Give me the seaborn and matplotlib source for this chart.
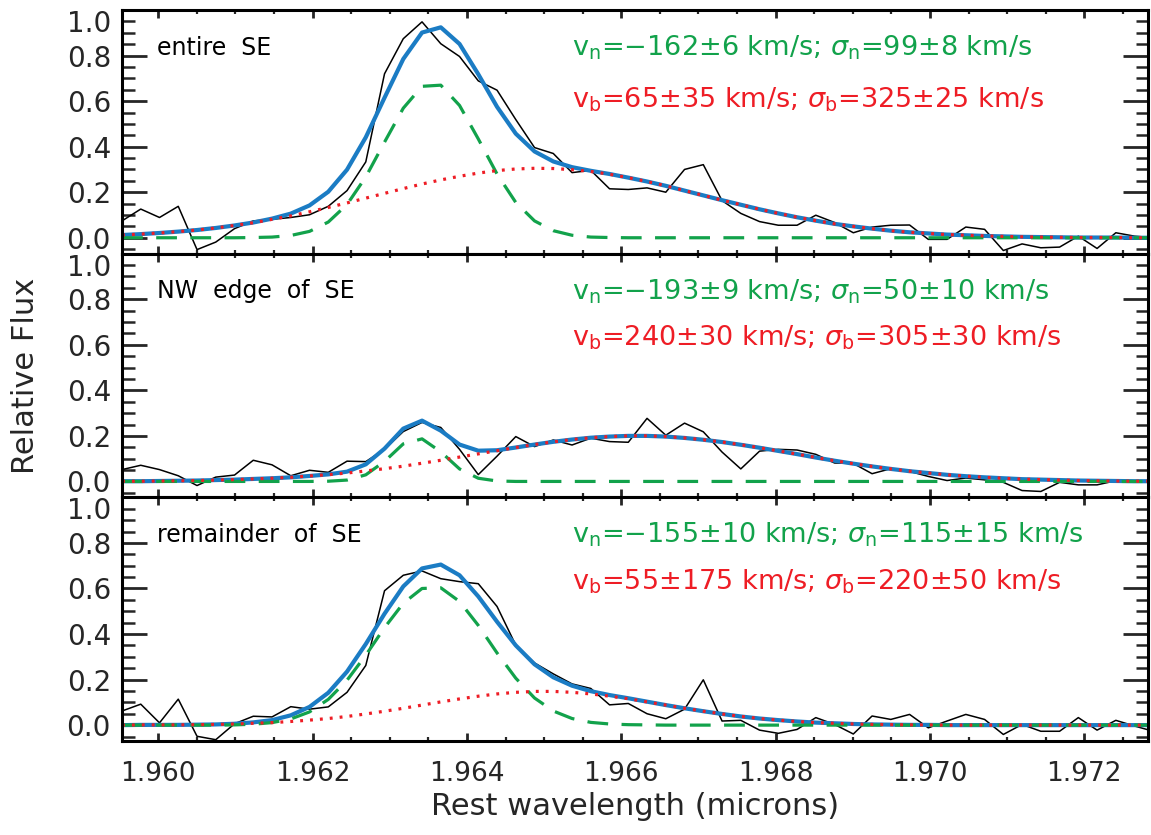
import numpy as np
import pandas as pd
import seaborn as sns
import matplotlib.pyplot as plt
from matplotlib.ticker import MultipleLocator

sns.set_theme(style="ticks")
plt.rcParams['font.family'] = ['DejaVu Sans']
plt.rcParams['mathtext.fontset'] = 'dejavusans'

# rest wavelength grid (microns)
wave = [1.95953, 1.959773, 1.960016, 1.960259, 1.960502, 1.960745, 1.960988, 1.961231,
        1.961474, 1.961717, 1.96196, 1.962203, 1.962446, 1.962689, 1.962932, 1.963175,
        1.963418, 1.963661, 1.963904, 1.964147, 1.96439, 1.964633, 1.964876, 1.965119,
        1.965362, 1.965605, 1.965848, 1.966091, 1.966334, 1.966577, 1.96682, 1.967063,
        1.967306, 1.967549, 1.967792, 1.968035, 1.968278, 1.968521, 1.968764, 1.969007,
        1.96925, 1.969493, 1.969736, 1.969979, 1.970222, 1.970465, 1.970708, 1.970951,
        1.971194, 1.971437, 1.97168, 1.971923, 1.972166, 1.972409, 1.972652, 1.972895]

# entire SE
flux_1 = [0.074, 0.126, 0.089, 0.138, -0.052, -0.019, 0.040, 0.074, 0.081, 0.089, 0.101, 0.138,
          0.207, 0.333, 0.72, 0.874, 0.948, 0.852, 0.796, 0.689, 0.648, 0.519, 0.396, 0.370,
          0.286, 0.296, 0.215, 0.212, 0.219, 0.200, 0.300, 0.321, 0.163, 0.107, 0.071, 0.055,
          0.055, 0.099, 0.067, 0.022, 0.047, 0.055, 0.056, -0.007, -0.007, 0.047, 0.037, -0.056,
          -0.027, -0.044, -0.041, 0.007, -0.047, 0.022, 0.007, 0.0]
narrow_1 = [0, 0, 0, 0, 0, 0, 0, 0.001, 0.003, 0.010, 0.028, 0.069, 0.146, 0.267, 0.420, 0.569,
            0.665, 0.670, 0.581, 0.434, 0.280, 0.155, 0.074, 0.031, 0.011, 0.003, 0.001, 0,
            0, 0, 0, 0, 0, 0, 0, 0, 0, 0, 0, 0, 0, 0, 0, 0, 0, 0, 0, 0, 0, 0, 0, 0, 0, 0, 0, 0]
broad_1 = [0.012, 0.016, 0.021, 0.027, 0.034, 0.043, 0.054, 0.066, 0.081, 0.096, 0.114, 0.133,
           0.153, 0.174, 0.195, 0.216, 0.236, 0.254, 0.270, 0.284, 0.295, 0.302, 0.305, 0.304,
           0.299, 0.291, 0.279, 0.264, 0.247, 0.228, 0.207, 0.186, 0.165, 0.145, 0.125, 0.107,
           0.090, 0.075, 0.061, 0.050, 0.040, 0.031, 0.024, 0.019, 0.014, 0.011, 0.008, 0.006,
           0.004, 0.003, 0.002, 0.001, 0.001, 0.001, 0.0, 0.0]
total_1 = [0.012, 0.016, 0.021, 0.027, 0.034, 0.043, 0.054, 0.067, 0.084, 0.106, 0.142, 0.202,
           0.299, 0.441, 0.615, 0.785, 0.901, 0.924, 0.851, 0.718, 0.575, 0.457, 0.379, 0.335,
           0.310, 0.294, 0.280, 0.264, 0.247, 0.228, 0.207, 0.186, 0.165, 0.145, 0.125, 0.107,
           0.090, 0.075, 0.061, 0.050, 0.040, 0.031, 0.024, 0.019, 0.014, 0.011, 0.008, 0.006,
           0.004, 0.003, 0.002, 0.001, 0.001, 0.001, 0.0, 0.0]

# NW edge of SE
flux_2 = [0.052, 0.071, 0.052, 0.025, -0.018, 0.019, 0.028, 0.093, 0.073, 0.025, 0.049, 0.040,
          0.089, 0.087, 0.141, 0.219, 0.259, 0.237, 0.141, 0.030, 0.111, 0.197, 0.153, 0.182,
          0.160, 0.190, 0.175, 0.172, 0.277, 0.203, 0.256, 0.218, 0.129, 0.055, 0.133, 0.141,
          0.138, 0.119, 0.081, 0.079, 0.034, 0.056, 0.044, 0.022, 0.004, 0.015, 0.007, -0.004,
          -0.040, -0.044, -0.004, -0.015, -0.015, 0.003, 0.0, 0.0]
narrow_2 = [0, 0, 0, 0, 0, 0, 0, 0, 0, 0, 0, 0.001, 0.006, 0.029, 0.088, 0.165, 0.187, 0.130,
            0.055, 0.014, 0.002, 0, 0, 0, 0, 0, 0, 0, 0, 0, 0, 0, 0, 0, 0, 0, 0, 0, 0, 0,
            0, 0, 0, 0, 0, 0, 0, 0, 0, 0, 0, 0, 0, 0, 0, 0]
broad_2 = [0.001, 0.001, 0.002, 0.003, 0.004, 0.006, 0.008, 0.011, 0.014, 0.018, 0.024, 0.030,
           0.037, 0.046, 0.056, 0.067, 0.080, 0.093, 0.107, 0.121, 0.135, 0.149, 0.162, 0.174,
           0.184, 0.192, 0.197, 0.200, 0.200, 0.197, 0.191, 0.183, 0.173, 0.161, 0.148, 0.134,
           0.120, 0.105, 0.091, 0.078, 0.066, 0.055, 0.045, 0.037, 0.029, 0.023, 0.018, 0.014,
           0.010, 0.008, 0.006, 0.004, 0.003, 0.002, 0.001, 0.001]
total_2 = [0.001, 0.001, 0.002, 0.003, 0.004, 0.006, 0.008, 0.011, 0.014, 0.018, 0.024, 0.031,
           0.043, 0.075, 0.144, 0.232, 0.267, 0.223, 0.162, 0.135, 0.137, 0.149, 0.162, 0.174,
           0.184, 0.192, 0.197, 0.200, 0.200, 0.197, 0.191, 0.183, 0.173, 0.161, 0.148, 0.134,
           0.120, 0.105, 0.091, 0.078, 0.066, 0.055, 0.045, 0.037, 0.029, 0.023, 0.018, 0.014,
           0.010, 0.008, 0.006, 0.004, 0.003, 0.002, 0.001, 0.001]

# remainder of SE
flux_3 = [0.062, 0.092, 0.010, 0.114, -0.049, -0.064, 0.006, 0.039, 0.036, 0.081, 0.070, 0.080,
          0.144, 0.262, 0.590, 0.658, 0.677, 0.643, 0.630, 0.621, 0.521, 0.351, 0.273, 0.225,
          0.181, 0.161, 0.089, 0.095, 0.050, 0.028, 0.070, 0.199, 0.018, 0.021, -0.022, -0.036,
          -0.019, 0.033, 0.003, -0.039, 0.040, 0.025, 0.047, -0.012, 0.018, 0.047, 0.025, -0.041,
          0.003, -0.027, -0.027, 0.033, -0.022, 0.021, -0.004, -0.027]
narrow_3 = [0, 0, 0, 0, 0, 0, 0.001, 0.004, 0.011, 0.027, 0.058, 0.113, 0.197, 0.307, 0.428,
            0.535, 0.600, 0.603, 0.543, 0.438, 0.317, 0.206, 0.119, 0.062, 0.029, 0.012, 0.005,
            0.002, 0.001, 0, 0, 0, 0, 0, 0, 0, 0, 0, 0, 0, 0, 0, 0, 0, 0, 0, 0, 0, 0, 0, 0, 0,
            0, 0, 0, 0]
broad_3 = [0.0, 0.001, 0.001, 0.001, 0.002, 0.003, 0.005, 0.008, 0.011, 0.016, 0.022, 0.029,
           0.038, 0.049, 0.061, 0.074, 0.088, 0.102, 0.115, 0.127, 0.137, 0.144, 0.148, 0.148,
           0.144, 0.137, 0.127, 0.116, 0.102, 0.088, 0.074, 0.061, 0.049, 0.038, 0.029, 0.022,
           0.016, 0.011, 0.008, 0.005, 0.003, 0.002, 0.001, 0.001, 0, 0, 0, 0, 0, 0, 0, 0,
           0, 0, 0, 0]
total_3 = [0.0, 0.001, 0.001, 0.001, 0.002, 0.003, 0.006, 0.012, 0.022, 0.043, 0.080, 0.142,
           0.235, 0.356, 0.489, 0.609, 0.688, 0.705, 0.658, 0.565, 0.454, 0.350, 0.267, 0.210,
           0.173, 0.149, 0.132, 0.118, 0.103, 0.088, 0.074, 0.061, 0.049, 0.038, 0.029, 0.022,
           0.016, 0.011, 0.008, 0.005, 0.003, 0.002, 0.001, 0.001, 0, 0, 0, 0, 0, 0, 0, 0,
           0, 0, 0, 0]

regions = ["entire  SE", "NW  edge  of  SE", "remainder  of  SE"]
narrow_txt = [r"$\mathrm{v_n}$=−162±6 km/s; $\sigma_\mathrm{n}$=99±8 km/s",
              r"$\mathrm{v_n}$=−193±9 km/s; $\sigma_\mathrm{n}$=50±10 km/s",
              r"$\mathrm{v_n}$=−155±10 km/s; $\sigma_\mathrm{n}$=115±15 km/s"]
broad_txt = [r"$\mathrm{v_b}$=65±35 km/s; $\sigma_\mathrm{b}$=325±25 km/s",
             r"$\mathrm{v_b}$=240±30 km/s; $\sigma_\mathrm{b}$=305±30 km/s",
             r"$\mathrm{v_b}$=55±175 km/s; $\sigma_\mathrm{b}$=220±50 km/s"]
red_y = [0.63, 0.655, 0.655]

panels = [(flux_1, narrow_1, broad_1, total_1),
          (flux_2, narrow_2, broad_2, total_2),
          (flux_3, narrow_3, broad_3, total_3)]

GREEN = "#12A24B"
RED = "#EE1D25"
BLUE = "#1B7CC4"

fig, axes = plt.subplots(3, 1, figsize=(11.51, 8.35), dpi=100, sharex=True)
fig.subplots_adjust(left=0.106, right=0.997, top=0.988, bottom=0.1125, hspace=0)

for k, ax in enumerate(axes):
    flux, nar, bro, tot = panels[k]
    df = pd.DataFrame({"wave": wave, "flux": flux, "narrow": nar, "broad": bro, "total": tot})
    sns.lineplot(data=df, x="wave", y="flux", ax=ax, color="black", lw=1.1,
                 estimator=None, sort=False)
    sns.lineplot(data=df, x="wave", y="total", ax=ax, color=BLUE, lw=3.0,
                 estimator=None, sort=False)
    sns.lineplot(data=df, x="wave", y="narrow", ax=ax, color=GREEN, lw=2.3,
                 estimator=None, sort=False, dashes=(6.5, 4.2))
    sns.lineplot(data=df, x="wave", y="broad", ax=ax, color=RED, lw=2.3,
                 estimator=None, sort=False, dashes=(0.9, 2.2))

    ax.set_xlim(1.95953, 1.97282)
    ax.set_ylim(-0.07, 1.0)
    ax.set_xlabel("")
    ax.set_ylabel("")
    ax.xaxis.set_major_locator(MultipleLocator(0.002))
    ax.xaxis.set_minor_locator(MultipleLocator(0.0005))
    ax.yaxis.set_major_locator(MultipleLocator(0.2))
    ax.yaxis.set_minor_locator(MultipleLocator(0.05))
    ax.tick_params(axis="x", which="major", direction="in", length=6, width=2,
                   top=True, bottom=True, labelsize=19, pad=14)
    ax.tick_params(axis="x", which="minor", direction="in", length=3, width=1.6,
                   top=True, bottom=True)
    ax.tick_params(axis="y", which="major", direction="in", length=18, width=2,
                   left=True, right=True, labelsize=20, pad=8)
    ax.tick_params(axis="y", which="minor", direction="in", length=9, width=1.8,
                   left=True, right=True)
    ax.set_yticks([0.0, 0.2, 0.4, 0.6, 0.8, 1.0])
    ax.set_yticklabels(["0.0", "0.2", "0.4", "0.6", "0.8", "1.0"])
    ax.get_yticklabels()[-1].set_verticalalignment("top")
    for sp in ax.spines.values():
        sp.set_linewidth(2.2)
        sp.set_color("black")

    ax.text(0.034, 0.845, regions[k], transform=ax.transAxes, fontsize=17,
            color="black", va="center", ha="left")
    ax.text(0.439, 0.845, narrow_txt[k], transform=ax.transAxes, fontsize=19.5,
            color=GREEN, va="center", ha="left")
    ax.text(0.439, red_y[k], broad_txt[k], transform=ax.transAxes, fontsize=19.5,
            color=RED, va="center", ha="left")

axes[-1].set_xticks([1.960, 1.962, 1.964, 1.966, 1.968, 1.970, 1.972])
axes[-1].set_xticklabels(["1.960", "1.962", "1.964", "1.966", "1.968", "1.970", "1.972"])
axes[-1].set_xlabel("Rest wavelength (microns)", fontsize=22, labelpad=4)
fig.text(0.022, 0.55, "Relative Flux", rotation=90, fontsize=22, ha="center", va="center")

fig.savefig("out.png", dpi=100)
